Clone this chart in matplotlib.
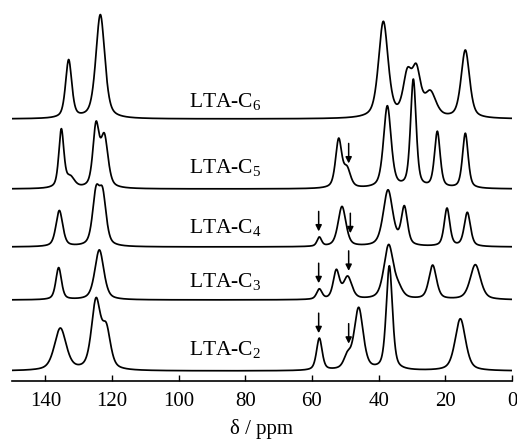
import numpy as np
import matplotlib
matplotlib.use("Agg")
import matplotlib.pyplot as plt

plt.rcParams['font.family'] = ['Liberation Serif', 'DejaVu Serif']
plt.rcParams['mathtext.fontset'] = 'custom'
plt.rcParams['mathtext.rm'] = 'Liberation Serif'
plt.rcParams['mathtext.it'] = 'Liberation Serif'

# ---- data (peak lists: ppm, relative intensity, FWHM ppm) ----
labels = ["LTA-C$_{6}$", "LTA-C$_{5}$", "LTA-C$_{4}$", "LTA-C$_{3}$", "LTA-C$_{2}$"]

c6_centers = [133.0, 123.5, 38.6, 31.4, 28.7, 24.5, 14.0]
c6_heights = [58, 104, 96, 40, 44, 24, 68]
c6_widths = [2.2, 3.2, 3.4, 3.0, 3.0, 4.0, 3.0]

c5_centers = [135.2, 132.5, 124.8, 122.3, 52.0, 49.5, 37.4, 29.6, 22.4, 14.0]
c5_heights = [58, 10, 60, 50, 48, 18, 82, 108, 56, 55]
c5_widths = [1.8, 3.0, 2.2, 2.6, 2.2, 2.5, 2.7, 2.0, 2.0, 2.0]

c4_centers = [135.8, 124.8, 122.8, 57.8, 51.0, 37.2, 32.3, 19.5, 13.4]
c4_heights = [36, 50, 48, 9, 40, 56, 38, 38, 34]
c4_widths = [2.4, 2.5, 2.5, 1.6, 2.8, 3.4, 2.2, 2.0, 2.2]

c3_centers = [136.0, 123.8, 57.8, 52.7, 49.3, 37.0, 34.0, 23.8, 11.0]
c3_heights = [32, 50, 10, 28, 22, 54, 8, 34, 35]
c3_widths = [2.0, 3.2, 1.9, 2.2, 3.0, 3.4, 3.0, 2.7, 3.7]

c2_centers = [135.5, 124.8, 121.7, 57.8, 49.4, 46.0, 36.8, 15.5]
c2_heights = [42, 68, 38, 32, 12, 62, 104, 52]
c2_widths = [4.2, 3.2, 3.0, 2.0, 2.5, 3.2, 2.2, 3.7]

arrows_c5 = [49.0]
arrows_c4 = [58.0, 48.5]
arrows_c3 = [58.0, 49.0]
arrows_c2 = [58.0, 49.0]

x_ticks = [140, 120, 100, 80, 60, 40, 20, 0]

# ---- layout ----
offsets = [262, 192, 134, 81, 10]
label_y = [274, 208, 148, 94, 26]
label_x = 97.0

ppm = np.linspace(150, 0, 4000)


def spectrum(centers, heights, widths):
    y = np.zeros_like(ppm)
    for c, h, w in zip(centers, heights, widths):
        g = np.exp(-4 * np.log(2) * ((ppm - c) / w) ** 2)
        l = 1.0 / (1.0 + 4 * ((ppm - c) / w) ** 2)
        y += h * (0.5 * g + 0.5 * l)
    return y


sets = [
    (c6_centers, c6_heights, c6_widths, []),
    (c5_centers, c5_heights, c5_widths, arrows_c5),
    (c4_centers, c4_heights, c4_widths, arrows_c4),
    (c3_centers, c3_heights, c3_widths, arrows_c3),
    (c2_centers, c2_heights, c2_widths, arrows_c2),
]

fig = plt.figure(figsize=(5.17, 4.43), dpi=100)
ax = fig.add_axes([12 / 517, 62 / 443, 500 / 517, 381 / 443])

for (cen, hei, wid, arr), off, lab, ly in zip(sets, offsets, labels, label_y):
    y = spectrum(cen, hei, wid) + off
    ax.plot(ppm, y, color='black', lw=1.25)
    ax.text(label_x, ly, lab, fontsize=15.5, ha='left', va='baseline')
    for a in arr:
        ya = np.interp(a, ppm[::-1], y[::-1])
        ax.annotate('', xy=(a, ya + 6), xytext=(a, ya + 26),
                    arrowprops=dict(arrowstyle='-|>', color='black', lw=1.1,
                                    mutation_scale=9, shrinkA=0, shrinkB=0))

ax.set_xlim(150, 0)
ax.set_ylim(0, 381)
for s in ['top', 'left', 'right']:
    ax.spines[s].set_visible(False)
ax.spines['bottom'].set_linewidth(1.2)
ax.set_yticks([])
ax.set_xticks(x_ticks)
ax.set_xticklabels([str(t) for t in x_ticks])
ax.tick_params(axis='x', direction='in', length=4, width=1.0, pad=8, labelsize=15)
ax.set_xlabel('δ / ppm', fontsize=15, labelpad=6)

fig.savefig('out.png', dpi=100)
